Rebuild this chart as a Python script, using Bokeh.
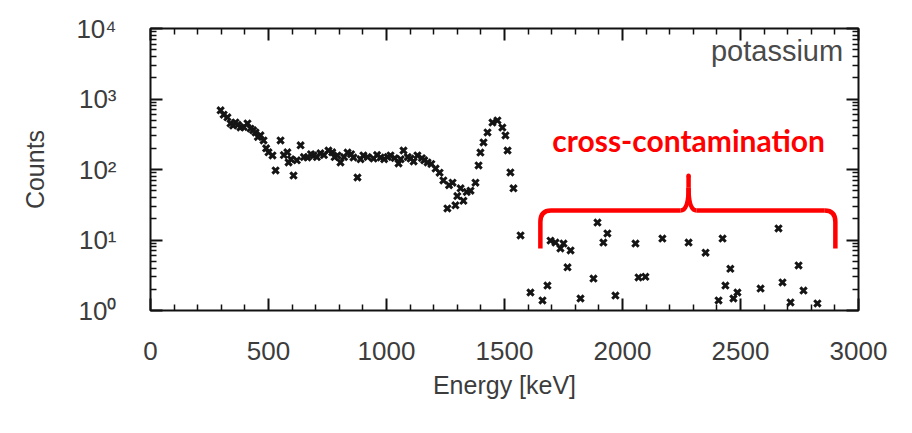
from bokeh.plotting import figure
from bokeh.models import (FixedTicker, LinearAxis, LogAxis, Label, ColumnDataSource)
from bokeh.embed import file_html
from bokeh.resources import INLINE

# ---- data ----
energy_kev = [297, 310, 326, 339, 350, 360, 370, 381, 395, 411, 424, 435, 445, 455, 466,
              479, 490, 500, 517, 530, 551, 565, 580, 585, 595, 606, 620, 636, 650, 665,
              680, 691, 705, 720, 735, 754, 770, 780, 792, 805, 820, 835, 850, 860, 877,
              890, 902, 920, 945, 960, 975, 990, 1005, 1017, 1035, 1051, 1060, 1072, 1090,
              1102, 1115, 1131, 1150, 1160, 1174, 1190, 1208, 1225, 1241, 1258, 1265, 1280,
              1292, 1300, 1314, 1326, 1340, 1356, 1377, 1390, 1398, 1411, 1428, 1449, 1470,
              1491, 1504, 1513, 1525, 1538,
              1568, 1610, 1661, 1682, 1695, 1716, 1737, 1750, 1767, 1780, 1822, 1877, 1894,
              1919, 1936, 1970, 2055, 2068, 2097, 2169, 2280, 2352, 2407, 2424, 2436, 2457,
              2470, 2487, 2585, 2661, 2678, 2712, 2746, 2767, 2826]
counts = [690, 600, 550, 450, 420, 465, 430, 395, 400, 450, 380, 360, 335, 290, 305,
          258, 200, 175, 158, 97, 258, 160, 175, 126, 140, 82, 135, 220, 150, 148,
          165, 158, 150, 170, 160, 186, 175, 150, 158, 126, 150, 174, 165, 148, 77,
          140, 158, 150, 143, 160, 148, 140, 150, 158, 145, 122, 140, 186, 150,
          143, 130, 158, 145, 135, 126, 120, 103, 90, 70, 28, 60, 65,
          31, 42, 54, 36, 48, 50, 65, 114, 174, 242, 335, 464, 496,
          394, 304, 186, 91, 54,
          11.6, 1.8, 1.39, 2.26, 9.8, 9.2, 7.6, 8.9, 4.1, 7.1, 1.48, 2.84, 17.7,
          9.2, 12.4, 1.63, 8.9, 2.94, 3.0, 10.5, 9.2, 6.6, 1.39, 10.5, 2.26, 3.9,
          1.48, 1.8, 2.05, 14.6, 2.5, 1.3, 4.35, 1.92, 1.26]

x_ticks = [0, 500, 1000, 1500, 2000, 2500, 3000]
y_ticks = [1, 10, 100, 1000, 10000]
y_tick_labels = ["10\u2070", "10\u00b9", "10\u00b2", "10\u00b3", "10\u2074"]

# annotation (brace) geometry in data units
brace_left, brace_mid, brace_right = 1652, 2280, 2902
brace_bottom, brace_bar, brace_top = 7.6, 26.2, 88
brace_corner_dx, brace_corner_y = 45, 18
brace_mid_dx, brace_mid_y = 34, 55

FONT = "'Liberation Sans', Arial, Helvetica, sans-serif"
GRAY = "#3c3c3c"
TICK = "#111111"

p = figure(width=912, height=433, y_axis_type="log",
           x_range=(0, 3000), y_range=(1, 10000),
           output_backend="svg", toolbar_location=None,
           min_border_left=150, min_border_right=54,
           min_border_top=28, min_border_bottom=123)
p.background_fill_color = "white"
p.border_fill_color = "white"
p.grid.visible = False
p.outline_line_color = TICK
p.outline_line_width = 2

x_minor = [v for v in range(100, 3000, 100) if v % 500 != 0]
y_minor = [m * 10 ** d for d in range(0, 4) for m in range(2, 10)]

xa = p.xaxis[0]
xa.ticker = FixedTicker(ticks=x_ticks, minor_ticks=x_minor)
ya = p.yaxis[0]
ya.ticker = FixedTicker(ticks=y_ticks, minor_ticks=y_minor)
ya.major_label_overrides = {t: l for t, l in zip(y_ticks, y_tick_labels)}

for ax in (xa, ya):
    ax.axis_line_color = None
    ax.major_tick_in = 12
    ax.major_tick_out = 0
    ax.minor_tick_in = 6
    ax.minor_tick_out = 0
    ax.major_tick_line_color = TICK
    ax.minor_tick_line_color = TICK
    ax.major_tick_line_width = 2
    ax.minor_tick_line_width = 1.5
    ax.major_label_text_font = FONT
    ax.major_label_text_font_size = "26px"
    ax.major_label_text_color = GRAY
    ax.axis_label_text_font = FONT
    ax.axis_label_text_font_size = "25px"
    ax.axis_label_text_font_style = "normal"
    ax.axis_label_text_color = GRAY

xa.axis_label = "Energy [keV]"
xa.major_label_standoff = 31
xa.axis_label_standoff = 8
ya.axis_label = "Counts"
ya.major_label_standoff = 34
ya.axis_label_standoff = 24


def mirror_axis(kind, positions, length):
    # only "minor" ticks -> no labels are generated on mirrored sides
    ax = kind(ticker=FixedTicker(ticks=[], minor_ticks=positions))
    ax.axis_line_color = None
    ax.major_tick_in = 0
    ax.major_tick_out = 0
    ax.minor_tick_in = length
    ax.minor_tick_out = 0
    ax.minor_tick_line_color = TICK
    ax.minor_tick_line_width = 2 if length > 8 else 1.5
    return ax


p.add_layout(mirror_axis(LinearAxis, x_ticks, 12), "above")
p.add_layout(mirror_axis(LinearAxis, x_minor, 6), "above")
p.add_layout(mirror_axis(LogAxis, y_ticks, 12), "right")
p.add_layout(mirror_axis(LogAxis, y_minor, 6), "right")

src = ColumnDataSource(dict(x=energy_kev, y=counts))
p.scatter("x", "y", source=src, marker="x", size=9, line_width=3,
          line_color="#151515")

# red brace annotation
RED = "#ff0000"
LW = 4.5
p.segment(x0=[brace_left, brace_left + brace_corner_dx, brace_mid + brace_mid_dx, brace_right],
          y0=[brace_bottom, brace_bar, brace_bar, brace_bottom],
          x1=[brace_left, brace_mid - brace_mid_dx, brace_right - brace_corner_dx, brace_right],
          y1=[brace_corner_y, brace_bar, brace_bar, brace_corner_y],
          line_color=RED, line_width=LW)
p.quadratic(x0=[brace_left, brace_right, brace_mid - brace_mid_dx, brace_mid + brace_mid_dx],
            y0=[brace_corner_y, brace_corner_y, brace_bar, brace_bar],
            x1=[brace_left + brace_corner_dx, brace_right - brace_corner_dx, brace_mid, brace_mid],
            y1=[brace_bar, brace_bar, brace_mid_y, brace_mid_y],
            cx=[brace_left, brace_right, brace_mid, brace_mid],
            cy=[brace_bar, brace_bar, brace_bar, brace_bar],
            line_color=RED, line_width=LW)
p.segment(x0=[brace_mid], y0=[brace_mid_y], x1=[brace_mid], y1=[brace_top * 0.93],
          line_color=RED, line_width=LW)
p.scatter(x=[brace_mid], y=[brace_top * 0.93], marker="circle", size=LW,
          fill_color=RED, line_color=None)

p.add_layout(Label(x=brace_mid, y=260, text="cross-contamination",
                   text_align="center", text_baseline="middle",
                   text_font="Lato", text_font_style="bold",
                   text_font_size="30px", text_color=RED))
p.add_layout(Label(x=2935, y=4800, text="potassium",
                   text_align="right", text_baseline="middle",
                   text_font=FONT, text_font_size="29px", text_color="#4a4a4a"))

open("out.html", "w").write(file_html(p, INLINE))
